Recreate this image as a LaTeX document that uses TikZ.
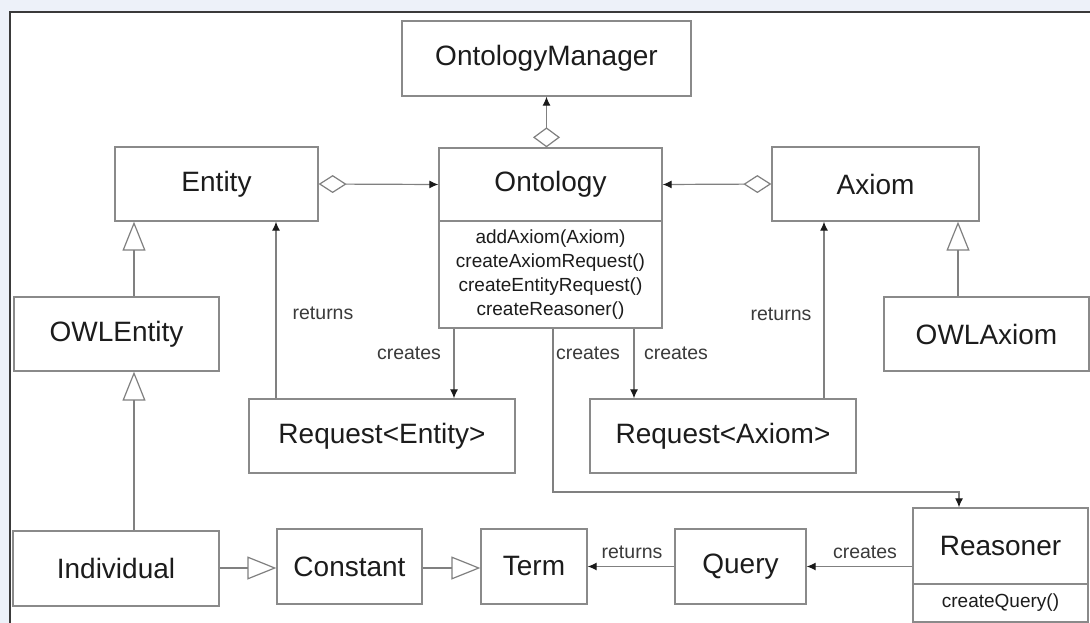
\documentclass[tikz,border=0pt]{standalone}
\usepackage{fontspec}
\setmainfont{Liberation Sans}
\usetikzlibrary{arrows.meta,calc}
\definecolor{bgblue}{HTML}{EDF1F9}
\definecolor{boxc}{HTML}{8A8A8A}
\definecolor{linec}{HTML}{808080}
\definecolor{txt}{HTML}{1C1C1C}
\definecolor{lbl}{HTML}{3A3A3A}
\definecolor{framec}{HTML}{3A3A3A}
\definecolor{tipc}{HTML}{1A1A1A}
\begin{document}
\begin{tikzpicture}[x=1pt,y=-1pt,
  cls/.style={draw=boxc, line width=1.3pt, fill=white, inner sep=0pt, text=txt, font=\fontsize{28}{32}\selectfont},
  meth/.style={draw=boxc, line width=1.3pt, fill=white, inner sep=0pt, text=txt, font=\fontsize{19}{24}\selectfont, align=center},
  conn/.style={draw=linec, line width=1.2pt},
  lab/.style={text=lbl, font=\fontsize{19.5}{22}\selectfont, inner sep=0pt},
  aggh/.style={conn, {Diamond[open,length=28pt,width=18pt]}-{Latex[length=9pt,width=8pt,color=tipc]}},
  aggv/.style={conn, {Diamond[open,length=20pt,width=27pt]}-{Latex[length=9pt,width=8pt,color=tipc]}},
  gen/.style={conn, -{Triangle[open,length=29pt,width=23pt]}},
  dep/.style={conn, -{Latex[length=9pt,width=8pt,color=tipc]}},
]
\useasboundingbox (0,0) rectangle (1090,623);
\fill[bgblue] (0,0) rectangle (1090,623);
\fill[white] (10,13) rectangle (1090,623);
\draw[framec, line width=2pt] (9.5,623) -- (9.5,12) -- (1090,12);

% classes
\node[cls, minimum width=289pt, minimum height=75pt] (om) at (546.5,58.5) {OntologyManager};
\node[cls, minimum width=223pt, minimum height=73pt] (ont) at (550.5,184.5) {Ontology};
\node[meth, minimum width=223pt, minimum height=107pt] (ontm) at (550.5,274.5)
  {addAxiom(Axiom)\\createAxiomRequest()\\createEntityRequest()\\createReasoner()};
\node[cls, minimum width=203pt, minimum height=74pt] (ent) at (216.5,184) {Entity};
\node[cls, minimum width=207pt, minimum height=74pt] (ax) at (875.5,184) {Axiom};
\node[cls, minimum width=205pt, minimum height=74pt] (owle) at (116.5,334) {OWLEntity};
\node[cls, minimum width=205pt, minimum height=74pt] (owla) at (986.5,334) {OWLAxiom};
\node[cls, minimum width=266pt, minimum height=74pt] (reqe) at (382,436) {Request<Entity>};
\node[cls, minimum width=266pt, minimum height=74pt] (reqa) at (723,436) {Request<Axiom>};
\node[cls, minimum width=206pt, minimum height=75pt] (ind) at (116,568.5) {Individual};
\node[cls, minimum width=145pt, minimum height=75pt] (con) at (349.5,566.5) {Constant};
\node[cls, minimum width=106pt, minimum height=75pt] (term) at (534,566.5) {Term};
\node[cls, minimum width=131pt, minimum height=75pt] (qry) at (740.5,566.5) {Query};
\node[cls, minimum width=175pt, minimum height=76pt] (rsn) at (1000.5,546) {Reasoner};
\node[meth, minimum width=175pt, minimum height=38pt] (rsnm) at (1000.5,603) {createQuery()};

% helper coordinates for line positions
\coordinate (gl) at (134,0);
\coordinate (gr) at (958,0);
\coordinate (re) at (276,0);
\coordinate (ce) at (454,0);
\coordinate (cr) at (553,0);
\coordinate (ca) at (634,0);
\coordinate (ra) at (824,0);
\coordinate (xr) at (959,0);
\coordinate (bend) at (0,492);
\coordinate (hy) at (0,568);

% aggregations
\draw[aggv] (ont.north -| om.south) -- (om.south);
\draw[aggh] (ent.east) -- (ont.west);
\draw[aggh] (ax.west) -- (ont.east);

% generalizations
\draw[gen] (owle.north -| gl) -- (ent.south -| gl);
\draw[gen] (ind.north -| gl) -- (owle.south -| gl);
\draw[gen] (owla.north -| gr) -- (ax.south -| gr);
\draw[gen] (ind.east |- hy) -- (con.west |- hy);
\draw[gen] (con.east |- hy) -- (term.west |- hy);

% dependencies
\draw[dep] (reqe.north -| re) -- (ent.south -| re);
\draw[dep] (ontm.south -| ce) -- (reqe.north -| ce);
\draw[dep] (ontm.south -| ca) -- (reqa.north -| ca);
\draw[dep] (reqa.north -| ra) -- (ax.south -| ra);
\draw[dep] (ontm.south -| cr) -- (cr |- bend) -- (xr |- bend) -- (rsn.north -| xr);
\draw[dep] (rsn.west |- qry.east) -- (qry.east);
\draw[dep] (qry.west) -- (term.east);

% labels
\node[lab] (l1) at (323,313) {returns};
\node[lab] (l2) at (409,353) {creates};
\node[lab] (l3) at (588,353) {creates};
\node[lab] (l4) at (676,353) {creates};
\node[lab] (l5) at (781,314) {returns};
\node[lab] (l6) at (632,552) {returns};
\node[lab] (l7) at (865,552) {creates};
\end{tikzpicture}
\end{document}
